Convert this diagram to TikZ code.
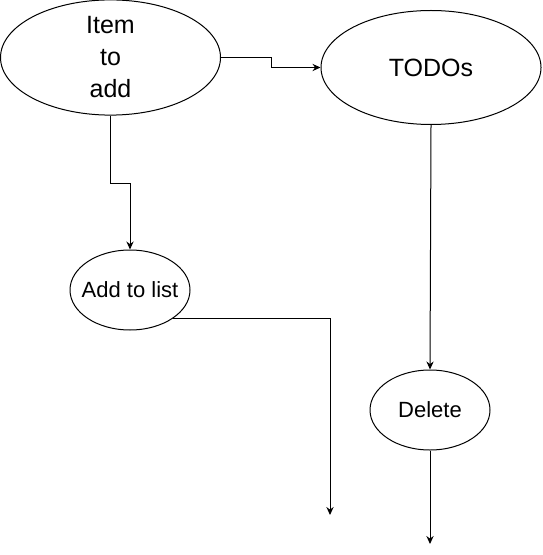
\documentclass[tikz,border=0pt]{standalone}
\usepackage{fontspec}
\setmainfont{Liberation Sans}
\usepackage{tikz}
\usetikzlibrary{arrows,arrows.meta,shapes.geometric}
\tikzstyle{bigoval} = [draw=black, fill=white, ellipse, inner sep=0pt, minimum width=110pt, minimum height=57pt, align=center, font=\fontsize{12.5}{16}\selectfont]
\tikzstyle{smalloval} = [draw=black, fill=white, ellipse, inner xsep=-4pt, inner ysep=0pt, minimum width=60pt, minimum height=40pt, font=\fontsize{11}{13}\selectfont]
\tikzstyle{flow} = [draw=black, line width=0.5pt, -{Stealth[length=4pt,width=3.6pt]}]

\begin{document}
\begin{tikzpicture}[x=0.5pt, y=-0.5pt, line width=0.5pt]
\useasboundingbox (0,0) rectangle (542,555);
\node [bigoval] (item) at (110.5,57.5) {Item\\to\\add};
\node [bigoval] (todo) at (431,67.5) {TODOs};
\node [smalloval] (add) at (130,290) {Add to list};
\node [smalloval] (delete) at (430,410) {Delete};
\coordinate (addend) at (330,515);
\coordinate (delend) at (430,544);
% connectors
\draw [flow] (item.east) -- ++(50,0) |- (todo.west);
\draw [flow] (item.south) -- ++(0,68) -| (add.north);
\draw [flow] (add.south east) -| (addend);
\draw [flow] (todo.south) -- (delete.north);
\draw [flow] (delete.south) -- (delend);
\end{tikzpicture}
\end{document}
